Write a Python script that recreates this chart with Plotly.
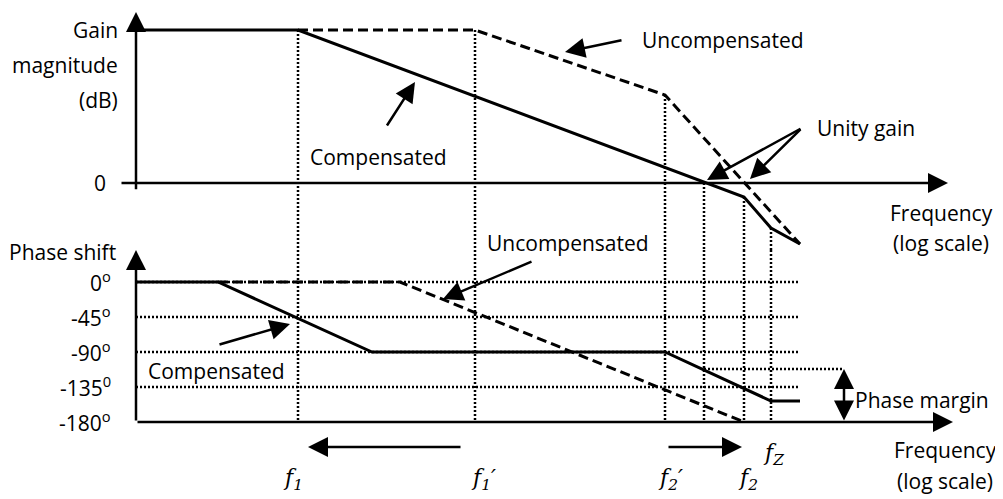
import plotly.graph_objects as go

# ---------------- data (x in log-frequency units, gain in dB, phase in degrees)
gain_comp_x = [0.0, 1.62, 6.08, 6.35, 6.64]
gain_comp_y = [100, 100, -9.2, -29.4, -39.9]
gain_unc_x = [1.62, 3.39, 5.29, 6.64]
gain_unc_y = [100, 100, 57.5, -39.9]

phase_comp_x = [0.0, 0.82, 2.36, 5.29, 6.35, 6.64]
phase_comp_y = [0, 0, -90, -90, -153, -153]
phase_unc_x = [0.82, 2.64, 6.08]
phase_unc_y = [0, 0, -180]

marker_freqs = [1.62, 3.39, 5.29, 5.68, 6.08, 6.35]   # f1, f1', f2', unity, f2, fz
marker_gain = [100, 100, 57.5, 0, -9.2, -29.4]
freq_labels = ["<i>f<sub>1</sub></i>", "<i>f<sub>1</sub>′</i>", "<i>f<sub>2</sub>′</i>",
               "<i>f<sub>2</sub></i>", "<i>f<sub>Z</sub></i>"]
freq_label_x = [1.57, 3.47, 5.34, 6.12, 6.37]
freq_label_y = [-254, -254, -254, -254, -222]

phase_grid = [0, -45, -90, -135]
phase_ticks = [0, -45, -90, -135, -180]
phase_tick_labels = ["0<sup>o</sup>", "-45<sup>o</sup>", "-90<sup>o</sup>",
                     "-135<sup>0</sup>", "-180<sup>o</sup>"]
phase_margin_level = -112

# ---------------- layout constants (page has an 8px body margin)
X_RANGE = [-1.28, 8.67]
G_RANGE = [-43.79, 114.38]
P_RANGE = [-279.0, 41.14]
SPLIT = 0.50713
X_END = 6.64
FONT = dict(family="Open Sans", size=21, color="black")
FFONT = dict(family="DejaVu Serif", size=22, color="black")

fig = go.Figure()
dotted = dict(color="black", width=2.5, dash="2px,2px")
solid = dict(color="black", width=3)
dashed = dict(color="black", width=3, dash="10px,5px")

def line(x, y, style, yaxis="y"):
    fig.add_trace(go.Scatter(x=x, y=y, mode="lines", line=style, yaxis=yaxis,
                             hoverinfo="skip", showlegend=False))

# vertical dotted guide lines
for f, g in zip(marker_freqs, marker_gain):
    line([f, f], [g, G_RANGE[0]], dotted, "y")
    line([f, f], [P_RANGE[1], -180], dotted, "y2")

# horizontal dotted phase grid
for p in phase_grid:
    line([0, X_END], [p, p], dotted, "y2")
line([marker_freqs[3], 7.07], [phase_margin_level, phase_margin_level], dotted, "y2")

# gain curves
line(gain_unc_x, gain_unc_y, dashed, "y")
line(gain_comp_x, gain_comp_y, solid, "y")
# phase curves
line(phase_unc_x, phase_unc_y, dashed, "y2")
line(phase_comp_x, phase_comp_y, solid, "y2")

ann = []

def arrow(x, y, ax, ay, yref="y", both=False):
    d = dict(x=x, y=y, ax=ax, ay=ay, xref="x", yref=yref, axref="x", ayref=yref,
             showarrow=True, arrowhead=2, arrowsize=1.6, arrowwidth=2.5,
             arrowcolor="black", text="", standoff=0, startstandoff=0)
    if both:
        d.update(arrowside="end+start", startarrowhead=2, startarrowsize=1.6)
    ann.append(d)

def text(x, y, t, yref="y", xanchor="center", font=FONT):
    ann.append(dict(x=x, y=y, xref="x", yref=yref, text=t, showarrow=False,
                    xanchor=xanchor, yanchor="middle", font=font))

# axes (drawn as arrows)
arrow(0, 111.8, 0, -5, "y")
arrow(8.12, 0, -0.16, 0, "y")
arrow(0, 41.0, 0, -180, "y2")
arrow(8.17, -180, 0, -180, "y2")

# gain labels
text(-0.16, 100, "Gain", "y", "right")
text(-0.16, 77, "magnitude", "y", "right")
text(-0.16, 54, "(dB)", "y", "right")
text(-0.36, 0, "0", "y")
text(8.05, -19.6, "Frequency", "y")
text(8.05, -39.2, "(log scale)", "y")
text(5.87, 93.5, "Uncompensated", "y")
arrow(4.29, 85.6, 4.87, 93.5, "y")
text(2.42, 17, "Compensated", "y")
arrow(2.79, 66.0, 2.50, 36.6, "y")
text(7.30, 36, "Unity gain", "y")
arrow(5.71, 2.0, 6.66, 36, "y")
arrow(6.14, 2.6, 6.66, 36, "y")

# phase labels
text(-0.74, 38.6, "Phase shift", "y2")
for p, t in zip(phase_ticks, phase_tick_labels):
    text(-0.23, p, t, "y2", "right")
text(4.32, -39.2, "Uncompensated", "y")
arrow(3.07, -22, 3.97, 27, "y2")
text(0.80, -114, "Compensated", "y2")
arrow(1.54, -54, 0.82, -81, "y2")
arrow(7.08, phase_margin_level, 7.08, -180, "y2", both=True)
text(7.17, -152, "Phase margin", "y2", "left")
text(8.09, -216, "Frequency", "y2")
text(8.09, -256, "(log scale)", "y2")

for t, x, y in zip(freq_labels, freq_label_x, freq_label_y):
    text(x, y, t, "y2", font=FFONT)
arrow(1.72, -212, 3.26, -212, "y2")
arrow(6.06, -212, 5.31, -212, "y2")

fig.update_layout(
    width=995, height=491,
    margin=dict(l=0, r=0, t=0, b=0),
    paper_bgcolor="white", plot_bgcolor="white",
    xaxis=dict(range=X_RANGE, visible=False, fixedrange=True),
    yaxis=dict(range=G_RANGE, domain=[SPLIT, 1], visible=False, fixedrange=True),
    yaxis2=dict(range=P_RANGE, domain=[0, SPLIT], visible=False, fixedrange=True,
                anchor="x"),
    annotations=ann,
    font=FONT,
)

fig.write_html("out.html")
